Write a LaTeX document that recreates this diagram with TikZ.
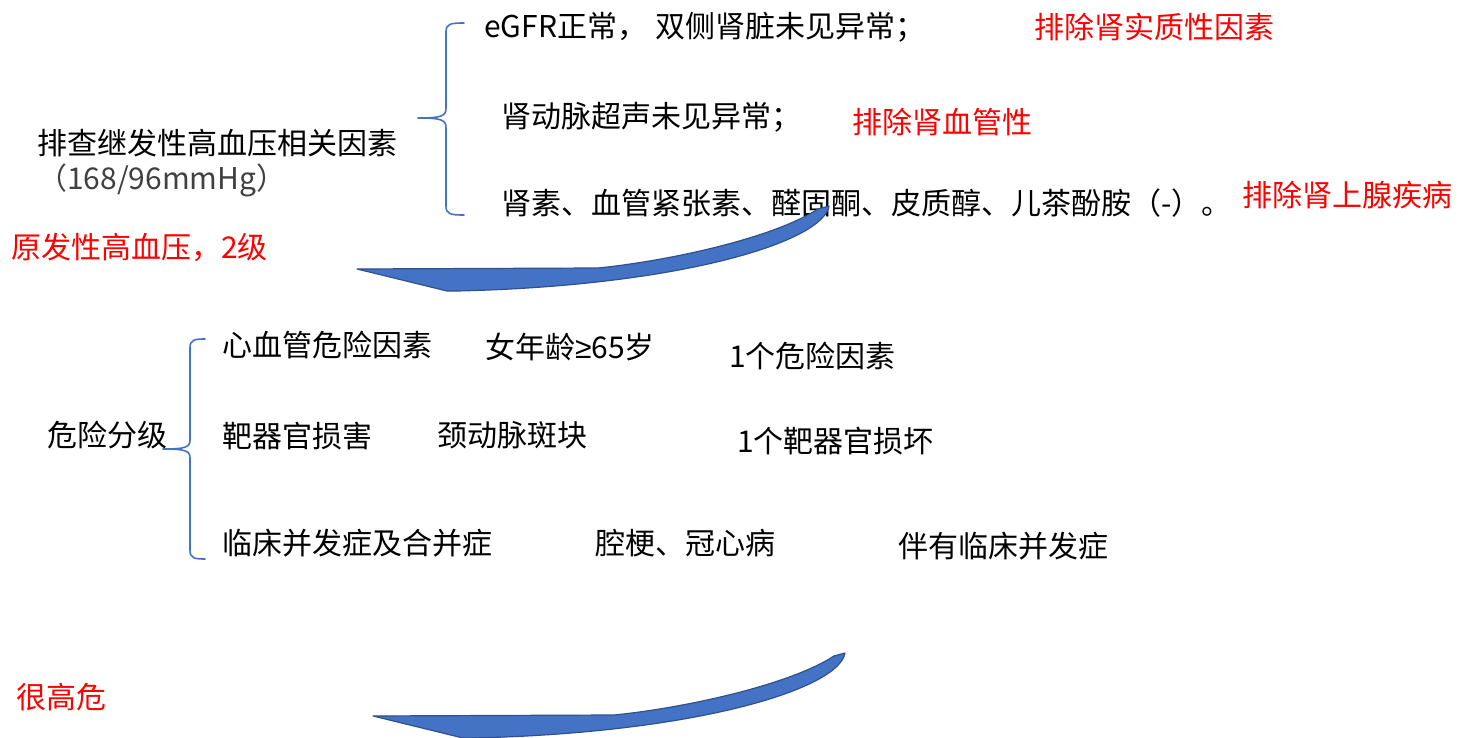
\documentclass[tikz,border=0pt]{standalone}
\usepackage{fontspec}
\setmainfont{Noto Sans CJK SC}
\newfontfamily\geqfont{Liberation Sans}
\definecolor{braceblue}{HTML}{4472C4}
\definecolor{arrowfill}{HTML}{4472C4}
\definecolor{arrowline}{HTML}{2F528F}
\definecolor{graytext}{HTML}{404040}
\definecolor{redtext}{HTML}{FF0000}
\tikzset{
  txt/.style={anchor=west, inner sep=0pt, font=\fontsize{30}{35}\selectfont, text=black},
  redtxt/.style={txt, text=redtext},
  graytxt/.style={txt, text=graytext},
  bracestyle/.style={draw=braceblue, line width=1.6pt, line cap=round, line join=round},
  blockarrow/.style={fill=arrowfill, draw=arrowline, line width=1.2pt, line join=round},
  curvearrow/.pic={
    \path[blockarrow] (0,0) -- (241,-1)
      .. controls (303,-7) and (413,-29) .. (461,-60)
      -- (472,-63)
      .. controls (466,-27) and (323,17) .. (100,22)
      -- (90,22) -- cycle;
  }
}
\begin{document}
\begin{tikzpicture}[x=1pt,y=-1pt]
\useasboundingbox (0,0) rectangle (1465,738);
% top section
\node[txt] (q) at (37,143) {排查继发性高血压相关因素};
\node[graytxt] (bp) at (37,180) {（168/96mmHg）};
\coordinate (b1tip) at (418,118);
\coordinate (b1top) at (464,23);
\coordinate (b1bot) at (464,215);
\draw[bracestyle] (b1top) .. controls (450,23) and (446,24) .. (446,32)
  -- (446,108) .. controls (446,116) and (442,118) .. (b1tip)
  .. controls (442,118) and (446,120) .. (446,128)
  -- (446,206) .. controls (446,214) and (450,215) .. (b1bot);
\node[txt] (t1) at (484,27) {eGFR正常，\hspace{8pt}双侧肾脏未见异常；};
\node[redtxt] (r1) at (1034,27) {排除肾实质性因素};
\node[txt] (t2) at (501,117) {肾动脉超声未见异常；};
\node[redtxt] (r2) at (852,122) {排除肾血管性};
\node[txt] (t3) at (501,203) {肾素、血管紧张素、醛固酮、皮质醇、儿茶酚胺（-）。};
\node[redtxt] (r3) at (1242,195) {排除肾上腺疾病};
\node[redtxt] (dx) at (11,247) {原发性高血压，2级};
\pic at (357,269) {curvearrow};
% middle section
\node[txt] (risk) at (47,435) {危险分级};
\coordinate (b2tip) at (163,449);
\coordinate (b2top) at (205,339);
\coordinate (b2bot) at (205,559);
\draw[bracestyle] (b2top) .. controls (194,339) and (190,340) .. (190,348)
  -- (190,440) .. controls (190,447) and (186,449) .. (b2tip)
  .. controls (186,449) and (190,451) .. (190,458)
  -- (190,550) .. controls (190,558) and (194,559) .. (b2bot);
\node[txt] (c1) at (222,345) {心血管危险因素};
\node[txt] (c1a) at (485,347) {女年龄{\geqfont ≥}65岁};
\node[txt] (c1b) at (729,356) {1个危险因素};
\node[txt] (c2) at (222,436) {靶器官损害};
\node[txt] (c2a) at (437,435) {颈动脉斑块};
\node[txt] (c2b) at (737,441) {1个靶器官损坏};
\node[txt] (c3) at (222,543) {临床并发症及合并症};
\node[txt] (c3a) at (595,543) {腔梗、冠心病};
\node[txt] (c3b) at (898,546) {伴有临床并发症};
\pic at (373,716) {curvearrow};
\node[redtxt] (res) at (16,697) {很高危};
\end{tikzpicture}
\end{document}
